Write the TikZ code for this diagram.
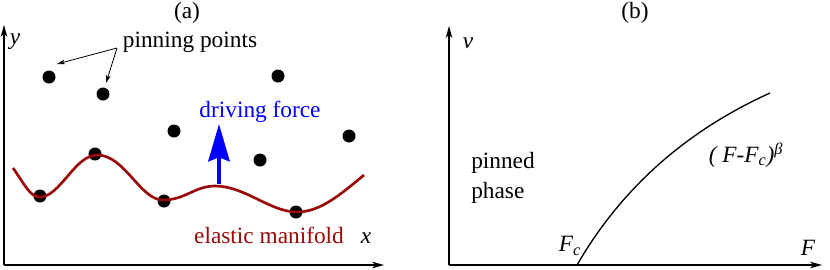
\documentclass[tikz,border=0pt]{standalone}
\usepackage{fontspec}
\setmainfont{Liberation Serif}
\usetikzlibrary{arrows.meta}
\definecolor{manifold}{RGB}{155,10,10}
\begin{document}
\begin{tikzpicture}[x=0.75pt,y=-0.75pt,
 lbl/.style={font=\fontsize{17.5}{22.5}\selectfont, inner sep=0pt},
 dot/.style={circle,fill=black,minimum size=9.75pt,inner sep=0pt},
 axis/.style={line width=1.1pt,-{Stealth[length=9pt,width=5pt,inset=2.5pt]}},
 thinarrow/.style={line width=0.6pt,-{Stealth[length=6pt,width=3.5pt,inset=1.5pt]}}]
\useasboundingbox (0,0) rectangle (830,269);
% ---------- panel (a)
\coordinate (oa) at (4,265);
\coordinate (ya) at (4,25);
\coordinate (xa) at (384,265);
\draw[axis] (oa) -- (ya);
\draw[axis] (oa) -- (xa);
\node[lbl] (la) at (187,13) {(a)};
\node[lbl] (ylab) at (15,42) {\textit{y}};
\node[lbl] (xlab) at (366,238) {\textit{x}};
\node[lbl] (pp) at (190,42) {pinning points};
% dots
\node[dot] (d1) at (49,77) {};
\node[dot] (d2) at (103,94) {};
\node[dot] (d3) at (174,131) {};
\node[dot] (d4) at (278,76) {};
\node[dot] (d5) at (260,160) {};
\node[dot] (d6) at (349,136) {};
\node[dot] (d7) at (95,154) {};
\node[dot] (d8) at (40,196) {};
\node[dot] (d9) at (164,201) {};
\node[dot] (d10) at (296,212) {};
% pinning arrows
\coordinate (src) at (117,48);
\coordinate (t1) at (57,64);
\coordinate (t2) at (106,83);
\draw[thinarrow] (src) -- (t1);
\draw[thinarrow] (src) -- (t2);
% manifold
\draw[manifold, line width=2pt] (13,168) .. controls (25,185) and (30,197) .. (40,197)
  .. controls (60,197) and (75,155) .. (97,155)
  .. controls (125,155) and (140,200) .. (163,200)
  .. controls (185,200) and (195,186) .. (215,186)
  .. controls (245,186) and (270,212) .. (297,212)
  .. controls (320,212) and (340,195) .. (364,175);
% driving force
\coordinate (fb) at (219,184);
\coordinate (ft) at (219,124);
\draw[blue, line width=3pt, -{Stealth[length=28pt,width=16pt,inset=3pt]}] (fb) -- (ft);
\node[lbl, text=blue] (df) at (260,112) {driving force};
\node[lbl, text=manifold] (em) at (269,235) {elastic manifold};
% ---------- panel (b)
\coordinate (ob) at (449,265);
\coordinate (yb) at (449,26);
\coordinate (xb) at (822,265);
\draw[axis] (ob) -- (yb);
\draw[axis] (ob) -- (xb);
\node[lbl] (lb) at (635,13) {(b)};
\node[lbl] (vlab) at (468,43) {\textit{v}};
\node[lbl] (Flab) at (808,248) {\textit{F}};
\node[lbl] (Fc) at (570,246) {\textit{F\textsubscript{c}}};
\node[lbl, align=left] (pin) at (503,178) {pinned\\phase};
\node[lbl] (law) at (746,155) {\textit{( F-F\textsubscript{c})\textsuperscript{β}}};
\coordinate (cs) at (577,265);
\coordinate (ce) at (770,93);
\draw[line width=1pt] (cs) .. controls (621,189) and (685,131.5) .. (ce);
\end{tikzpicture}
\end{document}
